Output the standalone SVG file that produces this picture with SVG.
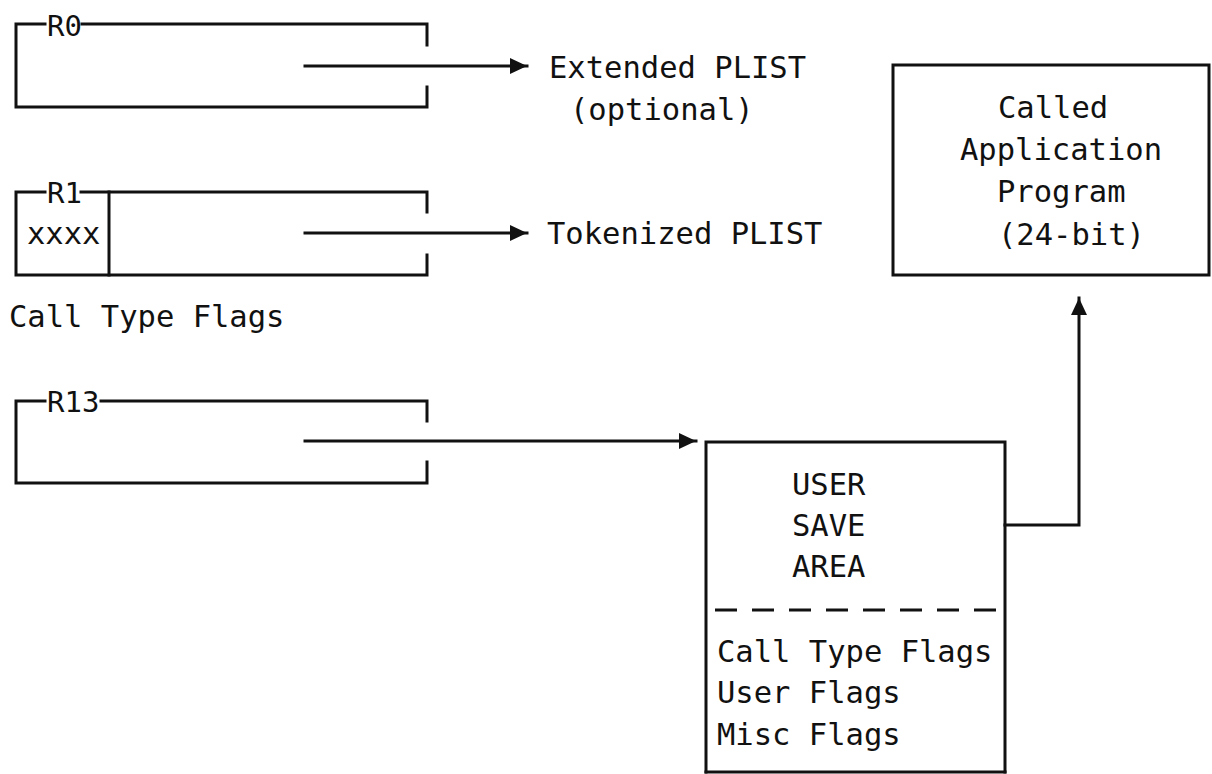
<svg xmlns="http://www.w3.org/2000/svg" width="1212" height="774" viewBox="0 0 1212 774">
<style>
.ln{fill:none;stroke:#111;stroke-width:3;stroke-linecap:square}
.t{font-family:"DejaVu Sans Mono","Liberation Mono",monospace;font-size:30.5px;fill:#111}
.lb{font-family:"DejaVu Sans Mono","Liberation Mono",monospace;font-size:29px;fill:#111}
</style>
<defs>
<marker id="ah" markerUnits="userSpaceOnUse" markerWidth="18" markerHeight="18" viewBox="0 0 18 18" refX="17" refY="9" orient="auto">
<path d="M0,1 L17,9 L0,17 Z" fill="#111"/>
</marker>
</defs>
<rect width="1212" height="774" fill="#fff"/>

<g id="r0">
<path class="ln" d="M45,24 H16 V107 H427 V87 M427,45 V24 H82"/>
<text class="lb" x="47" y="36">R0</text>
</g>

<g id="r1">
<path class="ln" d="M45,192 H16 V275 H427 V255 M427,212 V192 H81"/>
<line class="ln" x1="109" y1="192" x2="109" y2="275"/>
<text class="lb" x="47" y="203">R1</text>
<text class="t" x="27" y="244">xxxx</text>
</g>

<text id="call-type-flags" class="t" x="9" y="327">Call Type Flags</text>

<g id="r13">
<path class="ln" d="M45,401 H16 V483 H427 V462 M427,421 V401 H101"/>
<text class="lb" x="47" y="412">R13</text>
</g>

<g id="extended-plist">
<text class="t" x="549" y="78">Extended PLIST</text>
<text class="t" x="570" y="120">(optional)</text>
</g>

<g id="tokenized-plist">
<text class="t" x="547" y="244">Tokenized PLIST</text>
</g>

<g id="called-app">
<rect class="ln" x="893" y="65" width="316" height="210"/>
<text class="t" x="998" y="118">Called</text>
<text class="t" x="960" y="160">Application</text>
<text class="t" x="997" y="202">Program</text>
<text class="t" x="998" y="245">(24-bit)</text>
</g>

<g id="user-save-area">
<path class="ln" d="M706,772 V442 H1005 V772"/>
<line class="ln" x1="706" y1="772" x2="1005" y2="772"/>
<text class="t" x="792" y="495">USER</text>
<text class="t" x="792" y="536">SAVE</text>
<text class="t" x="792" y="577">AREA</text>
<line x1="715" y1="610" x2="998" y2="610" stroke="#111" stroke-width="3" stroke-dasharray="22 15"/>
<text class="t" x="717" y="662">Call Type Flags</text>
<text class="t" x="717" y="703">User Flags</text>
<text class="t" x="717" y="745">Misc Flags</text>
</g>

<g id="connectors">
<line class="ln" x1="305" y1="66" x2="527" y2="66" marker-end="url(#ah)"/>
<line class="ln" x1="305" y1="233" x2="527" y2="233" marker-end="url(#ah)"/>
<line class="ln" x1="305" y1="441" x2="696" y2="441" marker-end="url(#ah)"/>
<polyline class="ln" points="1005,525 1079,525 1079,298" marker-end="url(#ah)"/>
</g>
</svg>
